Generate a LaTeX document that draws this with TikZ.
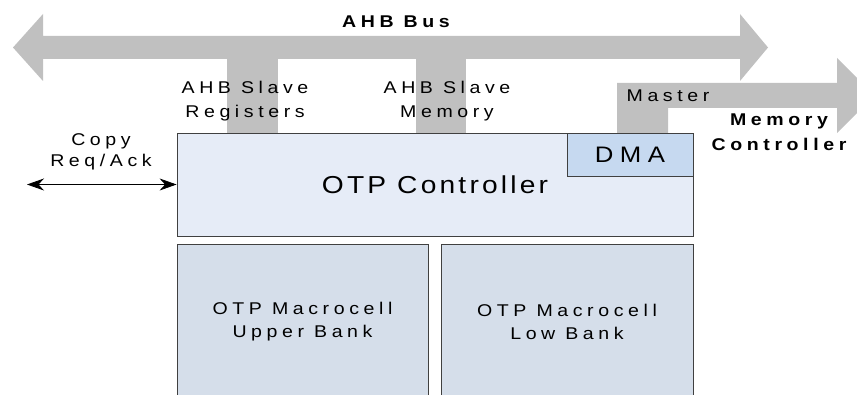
\documentclass[tikz,border=0pt]{standalone}
\usepackage{fontspec}
\setmainfont{Liberation Sans}
\newfontfamily\spacedfont{Liberation Sans}[FakeStretch=1.15,LetterSpace=27]
\newfontfamily\ctrlfont{Liberation Sans}[FakeStretch=1.15,LetterSpace=13]
\newfontfamily\dmafont{Liberation Sans}[FakeStretch=1.15,LetterSpace=29]
\usetikzlibrary{positioning,arrows.meta}

\definecolor{busgray}{HTML}{C0C0C0}
\definecolor{ctrlfill}{HTML}{E6ECF7}
\definecolor{dmafill}{HTML}{C6D9F0}
\definecolor{cellfill}{HTML}{D5DEEA}
\definecolor{edgegray}{HTML}{404040}

\tikzset{
  lbl/.style={font=\spacedfont\fontsize{17}{24.5}\selectfont, align=center, inner sep=0pt},
  lblb/.style={lbl, font=\spacedfont\bfseries\fontsize{17}{24.5}\selectfont},
  blk/.style={rectangle, draw=edgegray, line width=0.8pt, inner sep=0pt},
  cell/.style={blk, fill=cellfill, minimum height=154pt, align=center,
    font=\spacedfont\fontsize{17}{22.5}\selectfont},
  reqtip/.tip={Stealth[length=17pt,width=12pt]},
}

\begin{document}
\begin{tikzpicture}[x=1pt,y=-1pt]
  \useasboundingbox (0,0) rectangle (857,395);
  \clip (0,0) rectangle (857,395);

  % Bus arrows
  \fill[busgray] (13,47.5) -- (43,14) -- (43,36) -- (740,36) -- (740,14) -- (768,47.5)
    -- (740,81) -- (740,59) -- (43,59) -- (43,81) -- cycle;
  \fill[busgray] (227,58) rectangle (278,134);
  \fill[busgray] (416,58) rectangle (466,134);
  \fill[busgray] (617,134) -- (617,83) -- (837,83) -- (837,58) -- (874.5,95.5)
    -- (837,133) -- (837,108) -- (668,108) -- (668,134) -- cycle;

  % Define nodes
  \node[blk, fill=ctrlfill, minimum width=516pt, minimum height=103pt,
    font=\ctrlfont\fontsize{24.5}{28}\selectfont] (ctrl) at (435,184.5) {OTP Controller};
  \node[blk, fill=dmafill, minimum width=126pt, minimum height=43pt, anchor=north east,
    font=\dmafont\fontsize{22.4}{26}\selectfont] (dma) at (ctrl.north east) {DMA};
  \node[cell, minimum width=251pt, below=8pt of ctrl.south west, anchor=north west] (upper)
    {OTP Macrocell\\Upper Bank};
  \node[cell, minimum width=252pt, below=8pt of ctrl.south east, anchor=north east] (low)
    {OTP Macrocell\\Low Bank};

  \node[lblb] (busname) at (396,22) {AHB Bus};
  \node[lbl] (regs) at (245,101) {AHB Slave\\Registers};
  \node[lbl] (mem) at (447,101) {AHB Slave\\Memory};
  \node[lbl] (master) at (668,96) {Master};
  \node[lblb] (memctrl) at (779,132) {Memory\\Controller};
  \node[lbl, font=\spacedfont\fontsize{17}{21}\selectfont] (copy) at (101,152) {Copy\\Req/Ack};
  \coordinate (copyend) at (27,184.5);

  % Connect the nodes
  \draw[reqtip-reqtip, line width=0.8pt] (copyend) -- (ctrl.west);
\end{tikzpicture}
\end{document}
